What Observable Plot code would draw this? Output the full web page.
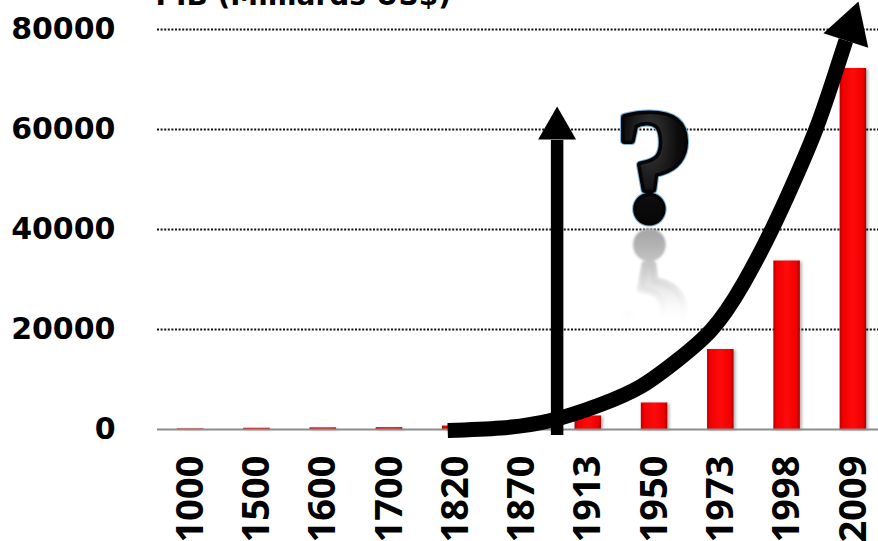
<!DOCTYPE html>
<html>
<head>
<meta charset="utf-8">
<script src="https://cdn.jsdelivr.net/npm/d3@7"></script>
<script src="https://cdn.jsdelivr.net/npm/@observablehq/plot@0.6"></script>
<style>
  html, body { margin: 0; padding: 0; background: #fff; overflow: hidden; }
</style>
</head>
<body>
<div id="chart"></div>
<script>
// World GDP (billions of US$) by year
const years = ["1000", "1500", "1600", "1700", "1820", "1870", "1913", "1950", "1973", "1998", "2009"];
const gdp = [120, 250, 330, 370, 690, 1100, 2700, 5300, 16000, 33700, 72200];
const yTicks = [0, 20000, 40000, 60000, 80000];
const gridLevels = [20000, 40000, 60000, 80000];
const title = "PIB (Milliards US$)";

// Growth trend arrow, in (column index, GDP) units
const trendX = [3.879, 4.679, 5.434, 6.189, 6.792, 7.321, 7.864, 8.332, 8.770, 9.117, 9.434, 9.691, 9.887];
const trendY = [-200, 300, 1800, 5000, 8600, 13600, 20000, 29000, 40000, 50000, 60000, 69800, 77800];
const trendHead = [{x: 9.95, y: 80400}];

// Vertical "turning point" arrow between 1870 and 1913
const pivotX = [5.53];
const pivotY = [-1200, 57800];
const pivotHead = [{x: 5.53, y: 60200}];

// Question mark over the 1950 column, and its reflection
const question = [{x: 7, y: 42000, t: "?"}];
const questionEcho = [{x: 7, y: 39200, t: "?"}];
const questionFont = "Liberation Serif";
const questionSize = 158;

const bars = years.map((year, i) => ({i, year, v: gdp[i]}));
const trend = trendX.map((x, i) => ({x, y: trendY[i]}));

const qText = {x: "x", y: "y", text: "t", lineAnchor: "bottom", fontSize: questionSize,
               fontFamily: questionFont, fontWeight: "bold"};

const chart = Plot.plot({
  width: 878,
  height: 541,
  marginLeft: 157,
  marginRight: -8,
  marginTop: 29,
  marginBottom: 112,
  style: {fontFamily: "DejaVu Sans", background: "#fff", overflow: "hidden"},
  x: {domain: [-0.5, years.length - 0.5]},
  y: {domain: [0, 80000]},
  marks: [
    Plot.ruleY(gridLevels, {stroke: "#111", strokeWidth: 2, strokeDasharray: "2 1.6"}),
    Plot.rectY(bars, {x1: d => d.i - 0.2, x2: d => d.i + 0.2, y: "v", fill: "url(#barFill)"}),
    Plot.ruleY([0], {stroke: "#8c8c8c", strokeWidth: 2}),
    Plot.axisY({ticks: yTicks, tickSize: 0, tickPadding: 42, fontSize: 30, fontWeight: "bold",
                tickFormat: d3.format("d"), label: null, fill: "#000"}),
    Plot.axisX({ticks: bars.map(d => d.i), tickFormat: i => years[i], tickRotate: -90,
                tickSize: 0, tickPadding: 26, fontSize: 38, fontWeight: "bold", fontFamily: "Open Sans",
                label: null, fill: "#000"}),
    Plot.text([title], {frameAnchor: "top-left", text: d => d, dx: -2, dy: -25, lineAnchor: "bottom",
                        textAnchor: "start", fontSize: 28, fontWeight: "bold", fill: "#000"}),
    // reflection (flipped below), thickened with a stroke of the same fade
    Plot.text(questionEcho, {...qText, fill: "url(#echoFill)", stroke: "url(#echoFill)", strokeWidth: 7}),
    // blue rim, then the heavy black glyph on top
    Plot.text(question, {...qText, fill: "#7fb0dc", stroke: "#7fb0dc", strokeWidth: 9}),
    Plot.text(question, {...qText, fill: "url(#qFill)", stroke: "#050505", strokeWidth: 7}),
    Plot.ruleX(pivotX, {y1: pivotY[0], y2: pivotY[1], stroke: "#000", strokeWidth: 12.5}),
    Plot.dot(pivotHead, {x: "x", y: "y", symbol: "triangle", r: 14.1, fill: "#000", stroke: null}),
    Plot.line(trend, {x: "x", y: "y", curve: "natural", stroke: "#000", strokeWidth: 15, strokeLinecap: "butt"}),
    Plot.dot(trendHead, {x: "x", y: "y", symbol: "triangle", r: 17.5, rotate: 18, fill: "#000", stroke: null})
  ]
});

// Gradients used by the bars and the question mark
const svg = d3.select(chart);
const defs = svg.insert("defs", ":first-child");
const barFill = defs.append("linearGradient").attr("id", "barFill").attr("x1", 0).attr("x2", 1).attr("y1", 0).attr("y2", 0);
[[0, "#b80000"], [0.12, "#f00000"], [0.5, "#ff0a0a"], [0.88, "#f00000"], [1, "#a80000"]]
  .forEach(([o, c]) => barFill.append("stop").attr("offset", o).attr("stop-color", c));
const qFill = defs.append("radialGradient").attr("id", "qFill").attr("cx", 0.45).attr("cy", 0.35).attr("r", 0.7);
[[0, "#3a3a3a"], [0.5, "#0c0c0c"], [1, "#000"]]
  .forEach(([o, c]) => qFill.append("stop").attr("offset", o).attr("stop-color", c));
// the reflection fades out going down from its baseline (local y runs upward after the flip)
const echoFill = defs.append("linearGradient").attr("id", "echoFill").attr("gradientUnits", "userSpaceOnUse")
  .attr("x1", 0).attr("x2", 0).attr("y1", 0).attr("y2", -90);
[[0, "#a8a8a8", 1], [0.3, "#c2c2c2", 1], [0.55, "#dadada", 0.8], [0.8, "#f0f0f0", 0.4], [1, "#ffffff", 0]]
  .forEach(([o, c, a]) => echoFill.append("stop").attr("offset", o).attr("stop-color", c).attr("stop-opacity", a));

// Soft shadow beside the bars
svg.selectAll('[fill="url(#barFill)"]').style("filter", "drop-shadow(2px 1px 1.5px rgba(0,0,0,0.3))");

// Mirror the reflected question mark about its baseline, slightly softened
svg.selectAll('[fill="url(#echoFill)"]').each(function() {
  this.style.filter = "blur(0.8px)";
  const texts = this.tagName.toLowerCase() === "text" ? [this] : Array.from(this.querySelectorAll("text"));
  texts.forEach(el => {
    const t = el.getAttribute("transform") || "";
    el.setAttribute("transform", t + " scale(1,-1)");
  });
});

document.getElementById("chart").appendChild(chart);
</script>
</body>
</html>
